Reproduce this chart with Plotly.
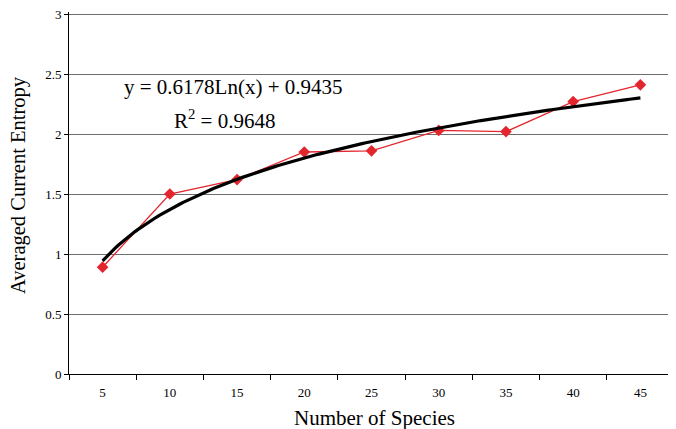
import numpy as np
import plotly.graph_objects as go

species = ["5", "10", "15", "20", "25", "30", "35", "40", "45"]
entropy = [0.89, 1.50, 1.62, 1.85, 1.86, 2.03, 2.02, 2.27, 2.41]
fit_a = 0.6178
fit_b = 0.9435
y_ticks = [0, 0.5, 1, 1.5, 2, 2.5, 3]
y_ticktext = ["0", "0.5", "1", "1.5", "2", "2.5", "3"]

idx = np.arange(1, len(species) + 1)
xs = np.linspace(1, len(species), 200)
trend = fit_a * np.log(xs) + fit_b

font = "Liberation Serif, Times New Roman, serif"

fig = go.Figure()
fig.add_trace(go.Scatter(x=idx, y=entropy, mode="lines+markers",
                         line=dict(color="#e3262e", width=1.3),
                         marker=dict(symbol="diamond", size=9, color="#e3262e"),
                         showlegend=False))
fig.add_trace(go.Scatter(x=xs, y=trend, mode="lines",
                         line=dict(color="black", width=3.2),
                         showlegend=False))

fig.update_layout(
    width=668, height=421,
    margin=dict(l=61, r=2, t=4, b=55, autoexpand=False),
    paper_bgcolor="white", plot_bgcolor="white",
    font=dict(family=font, color="black"),
    xaxis=dict(range=[0.5, len(species) + 0.5], tickmode="array", tickvals=list(idx),
               ticktext=species, ticks="", showgrid=False, zeroline=False,
               showline=True, linecolor="black", linewidth=1, mirror=False,
               automargin=False, ticklabelstandoff=6,
               tickfont=dict(size=13, family=font),
               minor=dict(tickmode="array", tickvals=[i + 0.5 for i in range(len(species) + 1)],
                          ticks="outside", ticklen=5, tickcolor="black", showgrid=False)),
    yaxis=dict(range=[0, 3.01667], tickmode="array", tickvals=y_ticks, ticktext=y_ticktext,
               ticks="outside", ticklen=4, tickcolor="black", automargin=False,
               ticklabeloverflow="allow",
               showgrid=True, gridcolor="#6e6e6e", gridwidth=1, zeroline=False,
               showline=True, linecolor="black", linewidth=1,
               tickfont=dict(size=13, family=font)),
    shapes=[dict(type="line", xref="paper", yref="paper", x0=1, x1=1, y0=0, y1=1,
                 line=dict(color="#8a8a8a", width=1.5))],
    annotations=[
        dict(x=2.94, y=2.39, xref="x", yref="y", text="y = 0.6178Ln(x) + 0.9435",
             showarrow=False, font=dict(size=21, family=font)),
        dict(x=2.82, y=2.12, xref="x", yref="y", text="R<sup>2</sup> = 0.9648",
             showarrow=False, font=dict(size=21, family=font)),
        dict(x=0.5045, y=-0.1215, xref="paper", yref="paper", text="Number of Species",
             showarrow=False, yanchor="middle", xanchor="center",
             font=dict(size=21, family=font)),
        dict(x=-0.0843, y=0.522, xref="paper", yref="paper", text="Averaged Current Entropy",
             showarrow=False, textangle=-90, xanchor="center", yanchor="middle",
             font=dict(size=20.5, family=font)),
    ],
)

fig.write_html("out.html")
